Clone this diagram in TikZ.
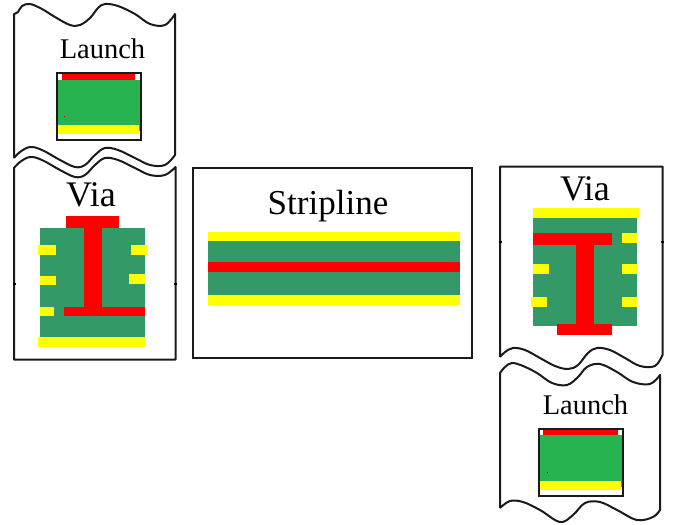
\documentclass[tikz,border=0pt]{standalone}
\usepackage{fontspec}
\setmainfont{Liberation Serif}
\definecolor{brightgreen}{HTML}{27B34F}
\definecolor{seagreen}{HTML}{339966}
\definecolor{yel}{HTML}{FFFF00}
\definecolor{rd}{HTML}{FF0000}
\definecolor{outl}{HTML}{1A1A1A}
\tikzset{
  panel/.style={draw=outl,line width=2pt,line join=round,fill=white},
  sub/.style={fill=seagreen},
  lgreen/.style={fill=brightgreen},
  yb/.style={fill=yel},
  rb/.style={fill=rd},
  lab/.style={inner sep=0pt,text=black},
  launchbox/.style={draw=outl,line width=1.8pt}
}
\begin{document}
\begin{tikzpicture}[x=1pt,y=-1pt]
\useasboundingbox (0,0) rectangle (673,525);
% top-left launch panel
\draw[panel] (14,158) -- (14,14)
  -- plot[smooth,tension=0.6] coordinates {(14,14) (18,12) (22,6) (30,4) (42,9) (55,17) (70,25) (80,25) (90,18) (98,8) (105,4) (118,6) (135,14) (150,24) (165,25) (175,14)}
  -- (175,155)
  -- plot[smooth,tension=0.6] coordinates {(175,155) (165,165) (150,165) (135,158) (118,150) (105,148) (95,155) (85,165) (75,167) (60,160) (42,150) (30,147) (20,152) (14,158)};
\node[lab,font=\fontsize{28.5}{30}\selectfont] (launchA) at (102.5,49) {Launch};
\fill[lgreen] (57.5,79.5) rectangle (139.5,131);
\fill[rb] (62,74) rectangle (135,79.5);
\fill[yb] (58,125) rectangle (138.5,134);
\fill[rd!70!black] (64,116.2) rectangle (65,117.2);
\draw[launchbox] (56.7,73.3) rectangle (140.7,140);
% left via panel
\draw[panel] (14,359.5) -- (14,168)
  -- plot[smooth,tension=0.6] coordinates {(14,168) (20,162) (30,157) (42,160) (60,170) (75,177) (85,175) (95,165) (105,158) (118,160) (135,168) (150,175) (165,175) (175.5,167)}
  -- (175.5,359.5) -- (14,359.5) -- cycle;
\draw[line width=2pt] (12.5,284.3) -- (15.5,284.3) (174,284.3) -- (177,284.3);
\node[lab,font=\fontsize{36}{38}\selectfont] (viaA) at (91,195) {Via};
\fill[sub] (40.3,227.7) rectangle (145,337.3);
\fill[rb] (66,215.7) rectangle (119.3,227.7);
\fill[rb] (83.7,227.7) rectangle (101.7,308);
\fill[rb] (64,307) rectangle (145,316);
\fill[yb] (38.3,245.3) rectangle (56,254.7);
\fill[yb] (131,245.3) rectangle (147,254.7);
\fill[yb] (40.3,275.7) rectangle (56,285.3);
\fill[yb] (129,274.3) rectangle (145,283.7);
\fill[yb] (40.3,307) rectangle (54.3,316.3);
\fill[yb] (38.3,337.3) rectangle (145,347);
% stripline
\draw[draw=outl,line width=2pt,fill=white] (193,168) rectangle (472,358);
\node[lab,font=\fontsize{35}{37}\selectfont] (strip) at (328,206) {Stripline};
\fill[sub] (208,241) rectangle (460,295);
\fill[yb] (208,232) rectangle (460,241);
\fill[rb] (208,262) rectangle (460,272);
\fill[yb] (208,295) rectangle (460,305);
% right via panel
\draw[panel] (500,357) -- (500,166.5) -- (662.5,166.5) -- (662.5,355)
  -- plot[smooth,tension=0.6] coordinates {(662.5,355) (655,366) (640,366) (625,358) (610,350) (597,348) (588,353) (578,365) (568,369) (555,366) (540,358) (525,350) (513,348) (505,352) (500,357)};
\draw[line width=2pt] (498.5,241.5) -- (501.5,241.5) (661,241.5) -- (664,241.5);
\node[lab,font=\fontsize{36}{38}\selectfont] (viaB) at (585,189) {Via};
\fill[sub] (533,217.7) rectangle (637.3,325.7);
\fill[yb] (533,208.3) rectangle (639.3,217.7);
\fill[rb] (533,233.3) rectangle (611.7,245);
\fill[rb] (576,245) rectangle (594,324);
\fill[rb] (556.7,323.7) rectangle (611.7,335.3);
\fill[yb] (621.7,233.3) rectangle (637.3,243);
\fill[yb] (533.3,264.3) rectangle (548.7,274);
\fill[yb] (621.7,264.3) rectangle (637.3,274);
\fill[yb] (531,297.3) rectangle (546.7,306.7);
\fill[yb] (621.7,297.3) rectangle (637.3,306.7);
% bottom-right launch panel
\draw[panel] (500,508) -- (500,373)
  -- plot[smooth,tension=0.6] coordinates {(500,373) (505,367) (512,363) (523,366) (537,373) (552,383) (567,385) (578,377) (587,367) (600,364) (617,372) (633,382) (650,384) (660,375)}
  -- (660,510)
  -- plot[smooth,tension=0.6] coordinates {(660,510) (653,517) (637,520) (617,510) (600,502) (585,503) (573,515) (560,522) (540,510) (523,502) (510,501) (500,508)};
\node[lab,font=\fontsize{28.5}{30}\selectfont] (launchB) at (585.5,405) {Launch};
\fill[lgreen] (539.5,435.3) rectangle (622.7,487);
\fill[rb] (543,430) rectangle (618,435.3);
\fill[yb] (540,481) rectangle (620.7,490);
\fill[rd!70!black] (546.5,472) rectangle (547.5,473);
\draw[launchbox] (539,429.3) rectangle (623.3,496);
\end{tikzpicture}
\end{document}
